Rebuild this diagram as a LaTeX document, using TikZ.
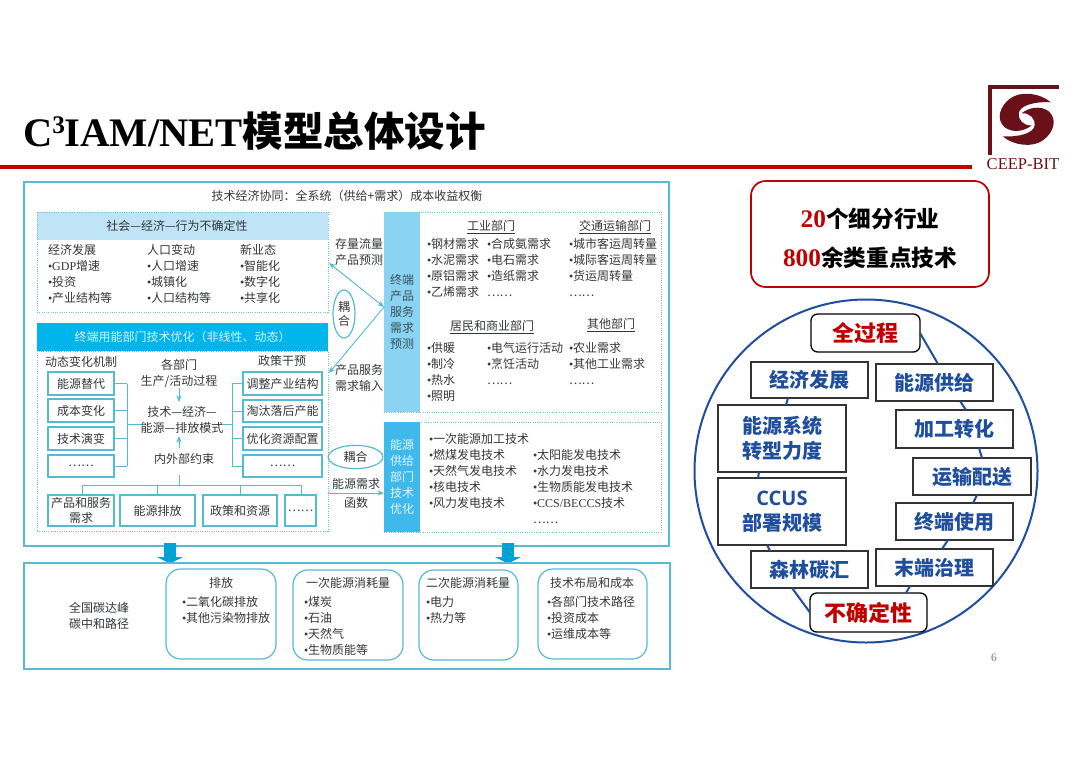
\documentclass[tikz,border=0pt]{standalone}
\usepackage{fontspec}
\setmainfont{Noto Sans CJK SC}
\newfontfamily\lat{Liberation Serif}
\newfontfamily\latsans{Open Sans}
\usetikzlibrary{arrows.meta,calc,shapes.geometric}
\definecolor{teal}{HTML}{55BBD2}
\definecolor{dots}{HTML}{6FC0D2}
\definecolor{lightb}{HTML}{BFE4F6}
\definecolor{bandb}{HTML}{00B4EC}
\definecolor{midb}{HTML}{8AD3F3}
\definecolor{supb}{HTML}{3FB9EC}
\definecolor{txt}{HTML}{33373A}
\definecolor{bluet}{HTML}{1F4E9C}
\definecolor{redt}{HTML}{C00000}
\definecolor{logo}{HTML}{6A1018}
\newcommand\bul{{\lat •}}
\newcommand\fsmall{\fontsize{9}{12}\selectfont}
\newcommand\commapath{(-24,17) .. controls (-14,26) and (6,29) .. (16.7,20.7) .. controls (27,13) and (31,0) .. (22,-8) .. controls (14,-14) and (2,-12) .. (-5,-6) .. controls (3,-7) and (9,0) .. (8,6) .. controls (7,14) and (-8,18) .. (-24,17) -- cycle}
\tikzset{
 x=0.75pt,y=-0.75pt,
 every node/.style={inner sep=0pt,outer sep=0pt,text=txt,font=\fsmall},
 rectbox/.style={draw=teal,line width=1pt},
 outerbox/.style={draw=teal,line width=1.1pt},
 dotbox/.style={draw=dots,line width=0.7pt,densely dotted},
 roundb/.style={draw=teal,line width=0.9pt,rounded corners=11pt},
 lst/.style={anchor=north west,align=left},
 wire/.style={draw=teal,line width=0.7pt},
 arw/.style={draw=teal,line width=0.7pt,-{Stealth[length=5pt,width=4pt]}},
 bigbox/.style={draw=black!80,line width=1pt,fill=white,text=bluet,font=\fontsize{15}{18.5}\selectfont\bfseries,align=center},
 redbox/.style={draw=black,line width=1pt,fill=white,text=redt,rounded corners=5pt,font=\fontsize{16.5}{20}\selectfont\bfseries},
 bluewire/.style={draw=bluet,line width=1.5pt},
 hltext/.style={text=black,font=\fontsize{17}{20}\selectfont\bfseries},
}
% name, x1,y1,x2,y2, style, text
\newcommand\bx[7]{\node[#6,minimum width={(#4-#2)*0.75pt},minimum height={(#5-#3)*0.75pt}] (#1) at ({(#2+#4)/2},{(#3+#5)/2}) {#7};}
\newcommand\lst[4]{\node[lst] (#1) at (#2,{#3-6}) {#4};}
\newcommand\tx[4]{\node (#1) at (#2,#3) {#4};}
\newcommand\rednum[1]{\textcolor{redt}{\lat\fontsize{19}{20}\selectfont\bfseries #1}}
\begin{document}
\begin{tikzpicture}
\useasboundingbox (0,0) rectangle (1080,764);
\fill[white] (0,0) rectangle (1080,764);
% title
\node[anchor=west,text=black,font=\fontsize{30.4}{36}\selectfont\bfseries] (title) at (23,131.5) {{\lat C\raisebox{0.34em}{\fontsize{19}{20}\selectfont 3}IAM/NET}模型总体设计};
\fill[redt] (0,164.5) rectangle (972,169);
% logo
\fill[logo] (988,85) rectangle (1059,89);
\fill[logo] (988,85) rectangle (992,155);
\begin{scope}[shift={(1026.7,119.3)}]
\fill[logo] \commapath;
\begin{scope}[rotate=180]
\fill[logo] \commapath;
\end{scope}
\end{scope}
\node[text=logo,font=\lat\fontsize{12.4}{14}\selectfont] (ceep) at (1023,164) {CEEP-BIT};
% main frame
\bx{main}{24}{182}{669}{546}{outerbox}{}
\tx{maint}{347}{196}{技术经济协同：全系统（供给+需求）成本收益权衡}
% society
\fill[lightb] (37,212) rectangle (328,240);
\bx{soc}{37}{212}{328}{312}{dotbox}{}
\tx{soct}{177}{226}{社会—经济—行为不确定性}
\lst{s1}{48}{250}{经济发展\\\bul {\lat GDP}增速\\\bul 投资\\\bul 产业结构等}
\lst{s2}{147}{250}{人口变动\\\bul 人口增速\\\bul 城镇化\\\bul 人口结构等}
\lst{s3}{240}{250}{新业态\\\bul 智能化\\\bul 数字化\\\bul 共享化}
% end use
\bx{endb}{37}{323}{328}{351}{fill=bandb,text=white!85!bandb}{终端用能部门技术优化（非线性、动态）}
\bx{endd}{37}{351}{328}{531}{dotbox}{}
\tx{d1}{81}{362}{动态变化机制}
\tx{d2}{282}{361}{政策干预}
\node[align=center] (d3) at (179,373) {各部门\\生产/活动过程};
\node[align=center] (d4) at (182,420) {技术—经济—\\能源—排放模式};
\tx{d5}{184}{459}{内外部约束}
\bx{l1}{48}{372}{114}{395}{rectbox}{能源替代}
\bx{l2}{48}{399}{114}{422}{rectbox}{成本变化}
\bx{l3}{48}{427}{114}{450}{rectbox}{技术演变}
\bx{l4}{48}{455}{114}{477}{rectbox}{……}
\bx{r1}{243}{372}{322}{395}{rectbox}{调整产业结构}
\bx{r2}{243}{400}{322}{422}{rectbox}{淘汰落后产能}
\bx{r3}{243}{427}{322}{450}{rectbox}{优化资源配置}
\bx{r4}{243}{455}{322}{477}{rectbox}{……}
\bx{b1}{48}{495}{114}{526}{rectbox,align=center,font=\fontsize{9}{11.5}\selectfont}{产品和服务\\需求}
\bx{b2}{120}{495}{195}{526}{rectbox}{能源排放}
\bx{b3}{203}{495}{277}{526}{rectbox}{政策和资源}
\bx{b4}{285}{495}{316}{526}{rectbox}{……}
\coordinate (lj) at (127,424);
\coordinate (rj) at (232,424);
\foreach \n in {l1,l2,l3,l4} \draw[wire] (\n.east) -- (\n.east -| lj);
\draw[wire] (l1.east -| lj) -- (l4.east -| lj);
\draw[wire] (lj) -- (d4.west |- lj);
\foreach \n in {r1,r2,r3,r4} \draw[wire] (\n.west) -- (\n.west -| rj);
\draw[wire] (r1.west -| rj) -- (r4.west -| rj);
\draw[wire] (rj) -- (d4.east |- rj);
\coordinate (a1) at (179,388); \coordinate (a2) at (179,402);
\coordinate (a3) at (179,448); \coordinate (a4) at (179,436);
\draw[arw] (a1) -- (a2);
\draw[arw] (a3) -- (a4);
\coordinate (bj) at (179,485); \coordinate (bt) at (179,475);
\draw[wire] (bt) -- (bj);
\coordinate (bl) at (82,485); \coordinate (br) at (301,485);
\coordinate (b2j) at (157,485); \coordinate (b3j) at (240,485);
\draw[wire] (bl) -- (br);
\draw[wire] (bl) -- (bl |- b1.north);
\draw[wire] (b2j) -- (b2j |- b2.north);
\draw[wire] (b3j) -- (b3j |- b3.north);
\draw[wire] (br) -- (br |- b4.north);
% right demand
\bx{dem}{384}{212}{661}{412}{dotbox}{}
\bx{demb}{384}{212}{420}{412}{fill=midb,align=center,text=txt!80!teal,font=\fontsize{9}{12}\selectfont}{终端\\产品\\服务\\需求\\预测}
\tx{h1}{491}{227}{\underline{工业部门}}
\tx{h2}{615}{227}{\underline{交通运输部门}}
\tx{h3}{492}{327}{\underline{居民和商业部门}}
\tx{h4}{611}{325}{\underline{其他部门}}
\lst{i1}{427}{244}{\bul 钢材需求\\\bul 水泥需求\\\bul 原铝需求\\\bul 乙烯需求}
\lst{i2}{487}{244}{\bul 合成氨需求\\\bul 电石需求\\\bul 造纸需求\\……}
\lst{i3}{569}{244}{\bul 城市客运周转量\\\bul 城际客运周转量\\\bul 货运周转量\\……}
\lst{i4}{427}{348}{\bul 供暖\\\bul 制冷\\\bul 热水\\\bul 照明}
\lst{i5}{487}{348}{\bul 电气运行活动\\\bul 烹饪活动\\……}
\lst{i6}{569}{348}{\bul 农业需求\\\bul 其他工业需求\\……}
\node[align=center] (m1) at (359,252) {存量流量\\产品预测};
\node[align=center] (m2) at (359,378) {产品服务\\需求输入};
\coordinate (up) at (329,263);
\coordinate (dn) at (329,373);
\coordinate (mid) at (384,307);
\draw[arw,{Stealth[length=5pt,width=4pt]}-{Stealth[length=5pt,width=4pt]}] (up) -- (mid);
\draw[arw] (mid) -- (dn);
\node[draw=teal,fill=white,line width=0.9pt,ellipse,minimum width=16.5pt,minimum height=36pt,align=center,font=\fontsize{9}{10.5}\selectfont] (cp1) at (344,314) {耦\\合};
% supply
\bx{sup}{384}{422}{661}{532}{dotbox}{}
\bx{supbb}{384}{422}{420}{532}{fill=supb,align=center,text=white!85!supb,font=\fontsize{9}{12}\selectfont}{能源\\供给\\部门\\技术\\优化}
\lst{u1}{429}{439}{\bul 一次能源加工技术\\\bul 燃煤发电技术\\\bul 天然气发电技术\\\bul 核电技术\\\bul 风力发电技术}
\lst{u2}{533}{455}{\bul 太阳能发电技术\\\bul 水力发电技术\\\bul 生物质能发电技术\\\bul {\lat CCS/BECCS}技术\\……}
\node[draw=teal,line width=0.9pt,ellipse,minimum width=41pt,minimum height=17.5pt] (cp2) at (355.5,457) {耦合};
\tx{m3}{356}{484}{能源需求}
\tx{m4}{356}{503}{函数}
\coordinate (fs) at (328,493);
\draw[arw] (fs) -- (fs -| supbb.west);
% arrows
\foreach \c in {170,508}
 \fill[bandb!90!black] (\c-6,543) -- (\c+6,543) -- (\c+6,557) -- (\c+13,557) -- (\c,563.5) -- (\c-13,557) -- (\c-6,557) -- cycle;
% lower
\bx{res}{24}{563}{670}{669}{outerbox}{}
\node[align=center] (rest) at (99,616) {全国碳达峰\\碳中和路径};
\bx{e1}{166}{569}{276}{659}{roundb}{}
\bx{e2}{293}{570}{403}{660}{roundb}{}
\bx{e3}{419}{570}{518}{660}{roundb}{}
\bx{e4}{538}{569}{647}{659}{roundb}{}
\tx{t1}{221}{583}{排放}
\tx{t2}{348}{583}{一次能源消耗量}
\tx{t3}{468}{583}{二次能源消耗量}
\tx{t4}{592}{583}{技术布局和成本}
\lst{g1}{182}{602}{\bul 二氧化碳排放\\\bul 其他污染物排放}
\lst{g2}{304}{602}{\bul 煤炭\\\bul 石油\\\bul 天然气\\\bul 生物质能等}
\lst{g3}{426}{602}{\bul 电力\\\bul 热力等}
\lst{g4}{547}{602}{\bul 各部门技术路径\\\bul 投资成本\\\bul 运维成本等}
% right top
\bx{hl}{751}{181}{989}{287}{draw=redt,line width=1.3pt,rounded corners=11pt}{}
\node[hltext] (hl1) at (870,219) {\rednum{20}个细分行业};
\node[hltext] (hl2) at (870,258) {\rednum{800}余类重点技术};
% circle
\draw[bluewire] (866,471) circle (171.5);
\bx{pc}{811}{314}{920}{352}{redbox}{全过程}
\bx{ec}{751}{362}{868}{398}{bigbox}{经济发展}
\bx{sp}{876}{364}{993}{401}{bigbox}{能源供给}
\bx{tr}{718}{405}{846}{472}{bigbox}{能源系统\\转型力度}
\bx{cc}{718}{478}{846}{545}{bigbox}{{\latsans CCUS}\\部署规模}
\bx{fo}{751}{551}{868}{588}{bigbox}{森林碳汇}
\bx{pr}{896}{410}{1013}{448}{bigbox}{加工转化}
\bx{ts}{913}{458}{1031}{495}{bigbox}{运输配送}
\bx{us}{896}{503}{1013}{540}{bigbox}{终端使用}
\bx{tm}{876}{549}{993}{586}{bigbox}{末端治理}
\bx{un}{810}{593}{927}{632}{redbox}{不确定性}
\draw[bluewire] (pc.east) -- ($(sp.north)+(3.5,0)$);
\draw[bluewire] ($(sp.south)+(25.5,0)$) -- ($(pr.north)+(11.5,0)$);
\draw[bluewire] ($(pr.south)+(24.5,0)$) -- ($(ts.north)+(10,0)$);
\draw[bluewire] ($(ts.south)+(5,0)$) -- ($(us.north)+(18.5,0)$);
\draw[bluewire] ($(us.south)+(-6.5,0)$) -- ($(tm.north)+(7.5,0)$);
\draw[bluewire] ($(tm.south)+(-24.5,0)$) -- ($(un.north)+(37.5,0)$);
\draw[bluewire] (un.west) -- ($(fo.south)+(-17.5,0)$);
\draw[bluewire] ($(fo.north)+(-39.5,0)$) -- ($(cc.south)+(-15,0)$);
\draw[bluewire] ($(cc.north)+(-24,0)$) -- ($(tr.south)+(-23,0)$);
\draw[bluewire] ($(tr.north)+(4,0)$) -- ($(ec.south)+(-21.5,0)$);
\node[text=black!55,font=\lat\fontsize{8.5}{10}\selectfont] (pg) at (994,658) {6};
\end{tikzpicture}
\end{document}
